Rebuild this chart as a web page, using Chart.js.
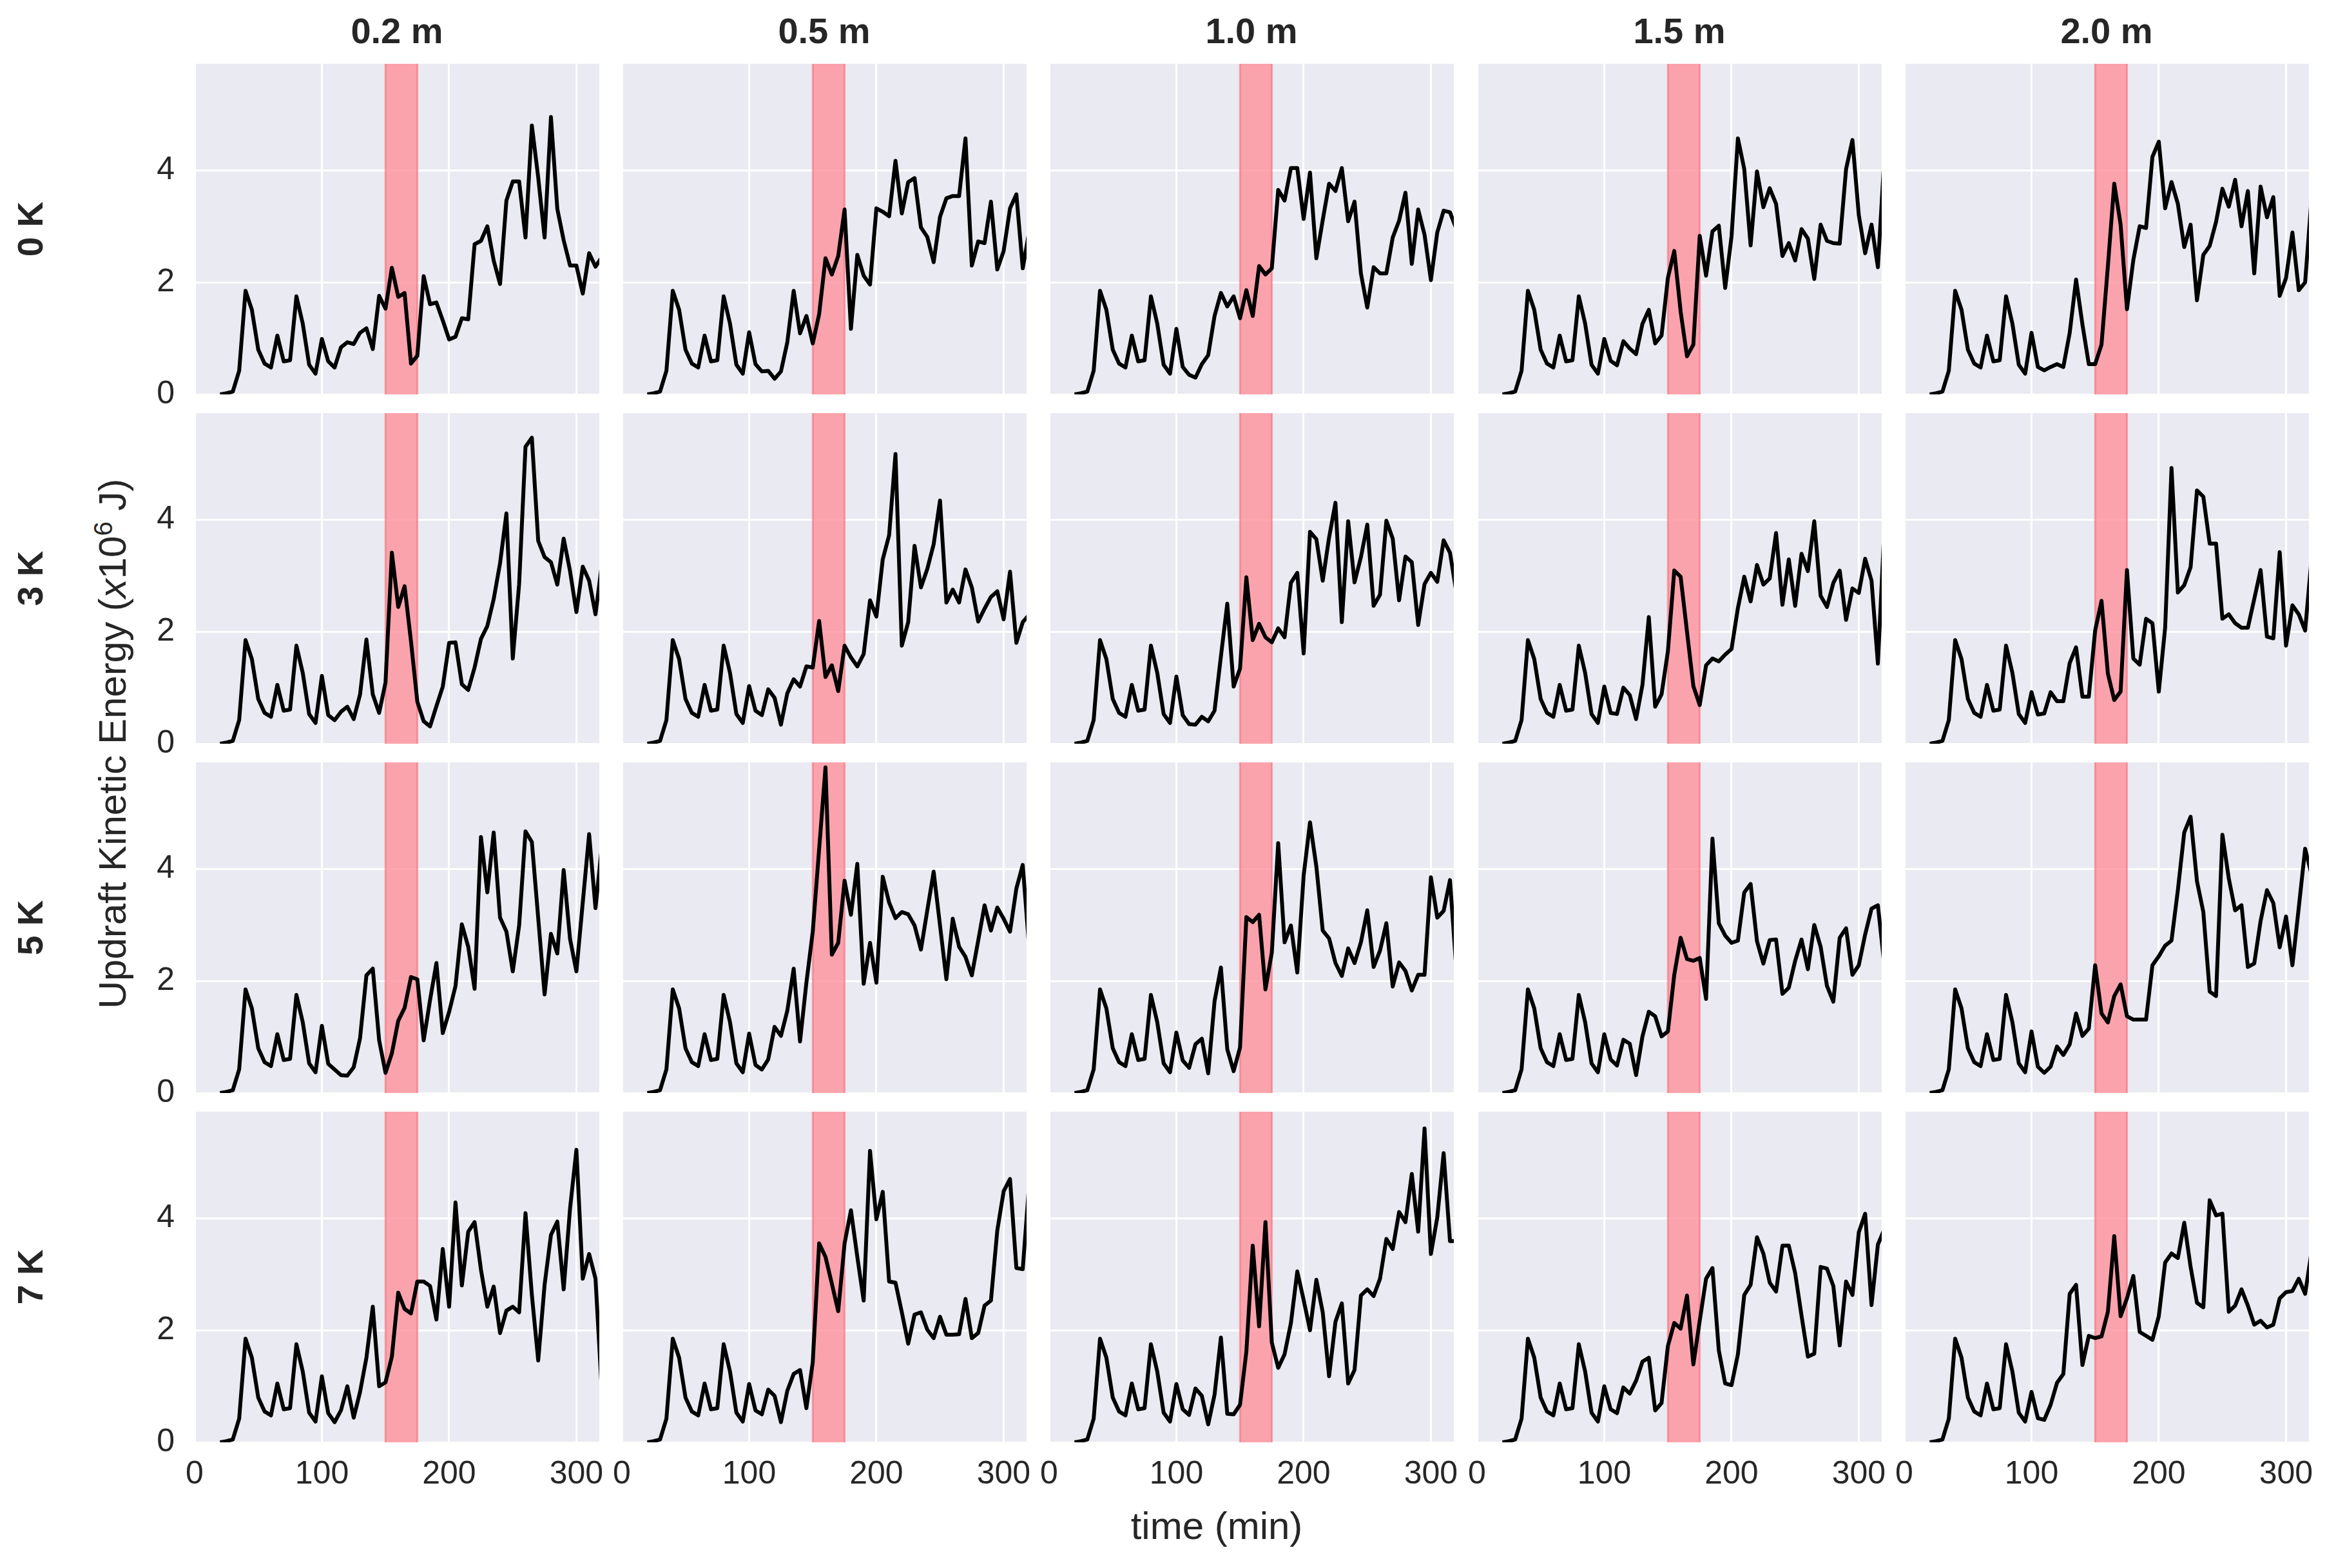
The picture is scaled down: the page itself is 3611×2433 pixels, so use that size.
<!DOCTYPE html>
<html>
<head>
<meta charset="utf-8">
<script src="https://cdn.jsdelivr.net/npm/chart.js@4.4.1/dist/chart.umd.min.js"></script>
<style>
  body { margin: 0; background: #fff; }
  #fig { position: relative; width: 3611px; height: 2433px; overflow: hidden; background: #fff;
         font-family: "Liberation Sans", Arial, sans-serif; color: #262626; }
  #fig canvas { position: absolute; }
  .lab { position: absolute; white-space: nowrap; font-size: 60px; transform: translate(-50%, -50%); }
  .lab sup { font-size: 40px; }
</style>
</head>
<body>
<div id="fig">
  <div class="lab" style="left:1888px; top:2367px;">time (min)</div>
  <div class="lab" style="left:173px; top:1154px; transform: translate(-50%, -50%) rotate(-90deg);">Updraft Kinetic Energy (<i>x</i>10<sup>6</sup> J)</div>
</div>
<script>
// time axis (min), one output every 5 min
const times = [20,25,30,35,40,45,50,55,60,65,70,75,80,85,90,95,100,105,110,115,120,125,130,135,140,145,150,155,160,165,170,175,180,185,190,195,200,205,210,215,220,225,230,235,240,245,250,255,260,265,270,275,280,285,290,295,300,305,310,315,320];

const rowLabels = ["0 K", "3 K", "5 K", "7 K"];
const colLabels = ["0.2 m", "0.5 m", "1.0 m", "1.5 m", "2.0 m"];
const xTicks = [0, 100, 200, 300];
const yTicks = [0, 2, 4];
const bandStart = 150, bandEnd = 175;

// shared spin-up, 20..95 min
const spinup = [0, 0.02, 0.05, 0.42, 1.85, 1.51, 0.80, 0.55, 0.48, 1.05, 0.59, 0.61, 1.75, 1.26, 0.53, 0.37];

// 100..320 min, per experiment
const ke0K_02 = [0.99,0.59,0.48,0.84,0.93,0.90,1.10,1.18,0.81,1.76,1.53,2.26,1.74,1.81,0.55,0.69,2.11,1.61,1.64,1.32,0.98,1.03,1.36,1.34,2.68,2.74,3.00,2.39,1.97,3.46,3.80,3.80,2.80,4.80,3.87,2.80,4.95,3.31,2.75,2.30,2.30,1.80,2.52,2.28,2.45];
const ke0K_05 = [1.11,0.54,0.41,0.42,0.28,0.41,0.93,1.85,1.09,1.40,0.91,1.43,2.43,2.14,2.47,3.30,1.17,2.49,2.12,1.96,3.32,3.26,3.18,4.17,3.23,3.79,3.86,2.98,2.81,2.36,3.17,3.50,3.54,3.54,4.57,2.30,2.73,2.70,3.44,2.23,2.56,3.32,3.57,2.25,2.90];
const ke0K_10 = [1.17,0.49,0.35,0.30,0.54,0.70,1.40,1.81,1.57,1.75,1.36,1.86,1.40,2.29,2.14,2.25,3.65,3.46,4.04,4.04,3.13,3.96,2.43,3.11,3.76,3.63,4.04,3.09,3.44,2.16,1.55,2.27,2.16,2.16,2.80,3.10,3.60,2.33,3.30,2.85,2.04,2.89,3.28,3.25,2.95];
const ke0K_15 = [0.99,0.60,0.52,0.95,0.82,0.72,1.26,1.51,0.91,1.05,2.08,2.56,1.48,0.68,0.89,2.83,2.12,2.91,3.01,1.90,2.82,4.57,4.02,2.66,3.98,3.34,3.68,3.40,2.47,2.70,2.39,2.95,2.78,2.06,3.03,2.74,2.70,2.69,4.02,4.54,3.20,2.52,3.03,2.27,4.20];
const ke0K_20 = [1.10,0.49,0.43,0.49,0.54,0.49,1.10,2.05,1.25,0.54,0.54,0.89,2.29,3.76,3.03,1.52,2.40,3.00,2.97,4.24,4.51,3.32,3.79,3.40,2.63,3.03,1.68,2.49,2.65,3.08,3.67,3.35,3.83,3.00,3.63,2.16,3.71,3.16,3.52,1.76,2.08,2.89,1.86,2.00,3.50];

const ke3K_02 = [1.21,0.51,0.42,0.57,0.66,0.44,0.88,1.86,0.88,0.55,1.09,3.41,2.44,2.81,1.83,0.75,0.40,0.31,0.67,1.02,1.80,1.81,1.06,0.96,1.36,1.87,2.10,2.58,3.22,4.11,1.52,2.85,5.30,5.46,3.62,3.33,3.24,2.84,3.66,3.08,2.35,3.16,2.91,2.31,3.20];
const ke3K_05 = [1.03,0.59,0.51,0.97,0.82,0.34,0.90,1.15,1.02,1.38,1.36,2.19,1.19,1.40,0.94,1.75,1.54,1.38,1.60,2.56,2.27,3.29,3.72,5.17,1.75,2.17,3.53,2.79,3.12,3.56,4.34,2.52,2.75,2.52,3.11,2.79,2.18,2.41,2.62,2.72,2.22,3.07,1.80,2.17,2.30];
const ke3K_10 = [1.20,0.51,0.35,0.34,0.48,0.40,0.59,1.56,2.50,1.02,1.34,2.97,1.85,2.14,1.90,1.81,2.06,1.90,2.87,3.05,1.61,3.78,3.65,2.91,3.68,4.30,2.17,3.97,2.88,3.33,3.91,2.46,2.66,3.98,3.66,2.56,3.34,3.24,2.12,2.85,3.05,2.89,3.63,3.41,2.70];
const ke3K_15 = [1.02,0.55,0.53,1.00,0.87,0.44,1.05,2.26,0.66,0.88,1.65,3.09,2.98,2.00,1.03,0.69,1.40,1.52,1.47,1.59,1.69,2.42,2.98,2.54,3.19,2.84,2.95,3.76,2.48,3.29,2.46,3.39,3.08,3.97,2.64,2.44,2.87,3.09,2.21,2.77,2.69,3.30,2.91,1.43,3.80];
const ke3K_20 = [0.92,0.52,0.54,0.92,0.76,0.76,1.44,1.72,0.84,0.84,2.02,2.55,1.25,0.78,0.93,3.10,1.52,1.41,2.23,2.15,0.93,2.07,4.92,2.70,2.83,3.15,4.52,4.41,3.57,3.57,2.23,2.31,2.15,2.07,2.07,2.58,3.10,1.91,1.88,3.42,1.75,2.47,2.31,2.02,3.30];

const ke5K_02 = [1.20,0.52,0.42,0.32,0.31,0.46,0.98,2.10,2.22,0.94,0.36,0.71,1.29,1.52,2.07,2.03,0.94,1.66,2.32,1.07,1.45,1.91,3.01,2.61,1.86,4.57,3.58,4.65,3.13,2.88,2.17,2.99,4.67,4.48,3.12,1.76,2.84,2.49,3.98,2.75,2.17,3.40,4.62,3.30,4.40];
const ke5K_05 = [1.06,0.50,0.42,0.60,1.18,1.02,1.47,2.22,0.92,1.97,2.88,4.35,5.81,2.47,2.68,3.79,3.18,4.09,1.95,2.68,1.97,3.86,3.40,3.12,3.23,3.19,2.99,2.56,3.26,3.95,2.99,2.03,3.11,2.61,2.43,2.10,2.72,3.35,2.90,3.31,3.11,2.88,3.65,4.07,2.60];
const ke5K_10 = [1.08,0.58,0.45,0.87,0.97,0.35,1.64,2.24,0.78,0.39,0.81,3.14,3.05,3.18,1.85,2.51,4.46,2.69,2.99,2.15,3.88,4.83,4.04,2.90,2.76,2.32,2.09,2.58,2.32,2.69,3.26,2.25,2.54,3.03,1.90,2.33,2.18,1.83,2.11,2.11,3.85,3.13,3.25,3.80,2.20];
const ke5K_15 = [1.05,0.60,0.49,0.95,0.88,0.32,1.01,1.45,1.37,1.01,1.10,2.11,2.77,2.39,2.36,2.41,1.68,4.54,3.03,2.81,2.68,2.72,3.58,3.73,2.71,2.31,2.73,2.74,1.77,1.88,2.36,2.74,2.21,3.00,2.61,1.91,1.63,2.77,2.94,2.11,2.28,2.83,3.29,3.35,2.30];
const ke5K_20 = [1.10,0.47,0.36,0.47,0.83,0.68,0.87,1.42,1.02,1.15,2.28,1.42,1.26,1.73,1.94,1.37,1.31,1.31,1.31,2.28,2.44,2.63,2.72,3.62,4.65,4.93,3.78,3.23,1.81,1.73,4.61,3.83,3.26,3.35,2.25,2.31,3.07,3.62,3.39,2.60,3.15,2.28,3.31,4.36,3.90];

const ke7K_02 = [1.18,0.52,0.36,0.57,1.00,0.44,0.90,1.51,2.42,1.00,1.07,1.53,2.67,2.38,2.30,2.87,2.87,2.79,2.19,3.45,2.42,4.28,2.80,3.76,3.93,3.08,2.42,2.78,1.95,2.35,2.42,2.32,4.09,2.63,1.46,2.81,3.70,3.94,2.73,4.17,5.22,2.92,3.36,2.92,0.90];
const ke7K_05 = [1.04,0.57,0.50,0.94,0.83,0.36,0.92,1.22,1.29,0.61,1.43,3.55,3.31,2.83,2.34,3.55,4.14,3.31,2.53,5.20,3.98,4.47,2.87,2.85,2.32,1.76,2.28,2.32,2.01,1.86,2.24,1.92,1.92,1.93,2.56,1.86,1.95,2.44,2.53,3.78,4.48,4.70,3.11,3.09,4.60];
const ke7K_10 = [1.04,0.59,0.49,0.96,0.83,0.32,0.85,1.87,0.51,0.50,0.67,1.62,3.51,2.07,3.93,1.78,1.33,1.57,2.13,3.05,2.54,2.00,2.90,2.32,1.18,2.15,2.48,1.05,1.29,2.62,2.73,2.61,2.92,3.63,3.45,4.11,3.93,4.79,3.76,5.60,3.36,4.01,5.16,3.59,3.59];
const ke7K_15 = [1.00,0.59,0.52,0.98,0.87,1.10,1.44,1.51,0.57,0.70,1.72,2.13,2.03,2.62,1.39,2.17,2.92,3.11,1.64,1.05,1.02,1.57,2.63,2.81,3.66,3.37,2.85,2.69,3.51,3.51,3.02,2.26,1.53,1.58,3.13,3.10,2.79,1.73,2.87,2.63,3.75,4.08,2.45,3.53,3.80];
const ke7K_20 = [0.90,0.43,0.40,0.67,1.06,1.22,2.65,2.81,1.38,1.90,1.86,1.89,2.33,3.68,2.25,2.57,2.97,1.97,1.90,1.83,2.25,3.21,3.37,3.29,3.92,3.13,2.49,2.41,4.32,4.05,4.08,2.33,2.44,2.73,2.44,2.10,2.17,2.05,2.10,2.57,2.68,2.70,2.92,2.65,3.40];

const grid = [
    [ke0K_02, ke0K_05, ke0K_10, ke0K_15, ke0K_20],
    [ke3K_02, ke3K_05, ke3K_10, ke3K_15, ke3K_20],
    [ke5K_02, ke5K_05, ke5K_10, ke5K_15, ke5K_20],
    [ke7K_02, ke7K_05, ke7K_10, ke7K_15, ke7K_20],
];

// panel placement in the figure (px)
const colLeft = [302, 965, 1628, 2292, 2955];
const rowTop = [99, 641, 1183, 1725];
const panelW = 628, panelH = 513;
const FONT = '"Liberation Sans", Arial, sans-serif';
const INK = "#262626";

const panelDeco = {
    id: "panelDeco",
    beforeDraw(chart) {
        const { ctx, chartArea: a } = chart;
        ctx.save();
        ctx.fillStyle = "#EAEAF2";
        ctx.fillRect(a.left, a.top, a.width, a.height);
        ctx.restore();
    },
    beforeDatasetsDraw(chart) {
        const { ctx, chartArea: a, scales } = chart;
        const x0 = scales.x.getPixelForValue(bandStart);
        const x1 = scales.x.getPixelForValue(bandEnd);
        ctx.save();
        ctx.fillStyle = "rgba(255,145,155,0.8)";
        ctx.fillRect(x0, a.top, x1 - x0, a.height);
        ctx.strokeStyle = "rgba(245,95,105,0.5)";
        ctx.lineWidth = 3;
        ctx.beginPath();
        ctx.moveTo(x0, a.top); ctx.lineTo(x0, a.bottom);
        ctx.moveTo(x1, a.top); ctx.lineTo(x1, a.bottom);
        ctx.stroke();
        ctx.restore();
    },
};

const fig = document.getElementById("fig");

function noPad(s) {
    s.paddingLeft = 0; s.paddingRight = 0; s.paddingTop = 0; s.paddingBottom = 0;
}

rowLabels.forEach((rowName, r) => {
    colLabels.forEach((colName, c) => {
        const leftM = c === 0 ? colLeft[0] : 40;
        const rightM = 40;
        const topM = r === 0 ? rowTop[0] : 40;
        const bottomM = r === 3 ? 2433 - (rowTop[3] + panelH) : 40;

        const cv = document.createElement("canvas");
        cv.width = leftM + panelW + rightM;
        cv.height = topM + panelH + bottomM;
        cv.style.left = colLeft[c] - leftM + "px";
        cv.style.top = rowTop[r] - topM + "px";
        fig.appendChild(cv);

        const values = spinup.concat(grid[r][c]);
        const pts = times.map((t, i) => ({ x: t, y: values[i] }));

        new Chart(cv, {
            type: "line",
            data: {
                datasets: [{
                    data: pts,
                    borderColor: "#000",
                    borderWidth: 6,
                    borderJoinStyle: "round",
                    pointRadius: 0,
                    tension: 0,
                    fill: false,
                }],
            },
            options: {
                responsive: false,
                animation: false,
                devicePixelRatio: 1,
                events: [],
                layout: { padding: { top: r === 0 ? 0 : topM, right: rightM, left: 0, bottom: 0 } },
                plugins: {
                    legend: { display: false },
                    tooltip: { enabled: false },
                    title: {
                        display: r === 0,
                        text: colName,
                        fullSize: false,
                        color: INK,
                        font: { family: FONT, size: 56, weight: "bold", lineHeight: 1.2 },
                        padding: { top: 18, bottom: 13.8 },
                    },
                },
                scales: {
                    x: {
                        type: "linear",
                        min: 0,
                        max: 318,
                        afterBuildTicks: (s) => { s.ticks = xTicks.map((v) => ({ value: v })); },
                        afterFit: (s) => { s.height = bottomM; noPad(s); },
                        grid: { color: "#fff", lineWidth: 3, drawTicks: false },
                        border: { display: false },
                        ticks: {
                            display: r === 3,
                            autoSkip: false,
                            maxRotation: 0,
                            padding: 20,
                            color: INK,
                            font: { family: FONT, size: 50 },
                        },
                    },
                    y: {
                        min: 0,
                        max: 5.9,
                        afterBuildTicks: (s) => { s.ticks = yTicks.map((v) => ({ value: v })); },
                        afterFit: (s) => { s.width = leftM; noPad(s); },
                        grid: { color: "#fff", lineWidth: 3, drawTicks: false },
                        border: { display: false },
                        ticks: {
                            display: c === 0,
                            padding: 31,
                            color: INK,
                            font: { family: FONT, size: 50 },
                        },
                        title: {
                            display: c === 0,
                            text: rowName,
                            color: INK,
                            font: { family: FONT, size: 55, weight: "bold", lineHeight: 1.2 },
                            padding: { top: 18, bottom: 0 },
                        },
                    },
                },
            },
            plugins: [panelDeco],
        });
    });
});
</script>
</body>
</html>
